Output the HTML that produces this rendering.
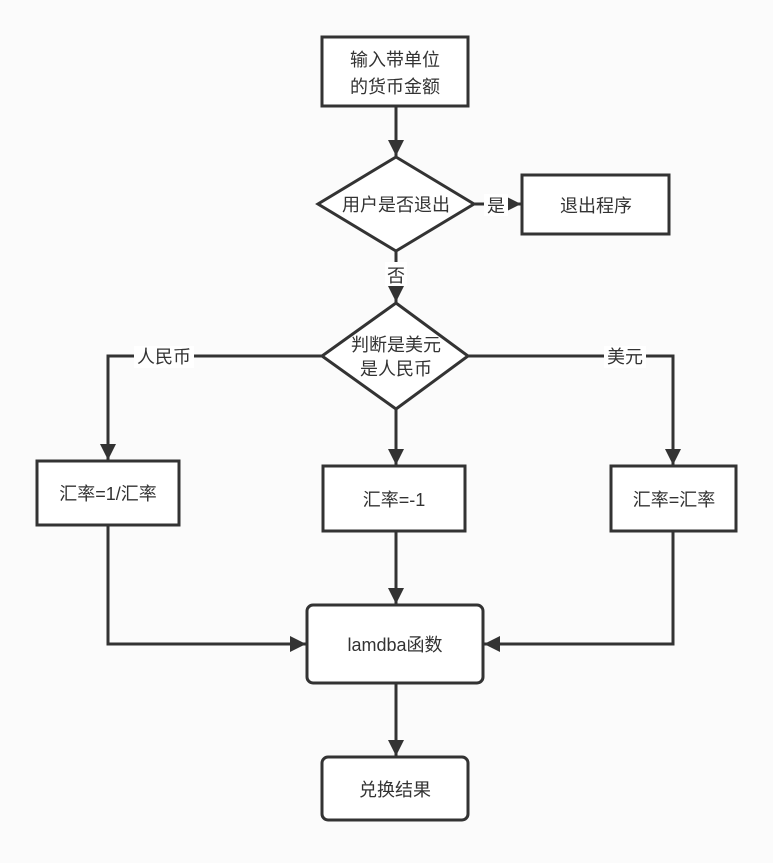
<!DOCTYPE html>
<html><head><meta charset="utf-8"><style>
html,body{margin:0;padding:0;background:#fbfbfb;}
svg text{font-family:"Liberation Sans","Noto Sans CJK SC",sans-serif;font-size:18px;fill:#333;}
</style></head><body>
<svg width="773" height="858" viewBox="0 0 773 858" xmlns="http://www.w3.org/2000/svg">
<defs>
<marker id="b" markerWidth="18" markerHeight="18" refX="16" refY="8" orient="auto" markerUnits="userSpaceOnUse"><path d="M0,0 L16,8 L0,16 Z" fill="#333"/></marker></defs>
<g stroke="#333" stroke-width="3" fill="none">
<line x1="396" y1="106" x2="396" y2="156" marker-end="url(#b)"/>
<line x1="474" y1="204" x2="521" y2="204" marker-end="url(#b)"/>
<line x1="396" y1="251" x2="396" y2="302" marker-end="url(#b)"/>
<polyline points="322,356 108,356 108,460" marker-end="url(#b)"/>
<line x1="396" y1="409" x2="396" y2="465" marker-end="url(#b)"/>
<polyline points="468,356 673,356 673,465" marker-end="url(#b)"/>
<polyline points="108,525 108,644 306,644" marker-end="url(#b)"/>
<line x1="396" y1="531" x2="396" y2="604" marker-end="url(#b)"/>
<polyline points="673,531 673,644 484,644" marker-end="url(#b)"/>
<line x1="396" y1="683" x2="396" y2="756" marker-end="url(#b)"/>
</g>
<g stroke="#333" stroke-width="3" fill="#fff">
<rect x="322" y="37" width="146" height="69"/>
<polygon points="396,157 474,204 396,251 318,204"/>
<rect x="522" y="175" width="147" height="59"/>
<polygon points="396,303 468,356 396,409 322,356"/>
<rect x="37" y="461" width="142" height="64"/>
<rect x="323" y="466" width="142" height="65"/>
<rect x="611" y="466" width="125" height="65"/>
<rect x="307" y="605" width="176" height="78" rx="6"/>
<rect x="322" y="757" width="146" height="63" rx="6"/>
</g>
<g fill="#fff">
<rect x="484" y="194" width="24" height="22"/>
<rect x="385" y="262" width="22" height="24"/>
<rect x="134" y="346" width="60" height="22"/>
<rect x="604" y="346" width="42" height="22"/>
</g>
<g text-anchor="middle">
<text x="395" y="66">输入带单位</text>
<text x="395" y="93">的货币金额</text>
<text x="396" y="211">用户是否退出</text>
<text x="596" y="212">退出程序</text>
<text x="496" y="212">是</text>
<text x="396" y="282">否</text>
<text x="396" y="351">判断是美元</text>
<text x="396" y="375">是人民币</text>
<text x="164" y="363">人民币</text>
<text x="625" y="363">美元</text>
<text x="108" y="500">汇率=1/汇率</text>
<text x="394" y="506">汇率=-1</text>
<text x="674" y="506">汇率=汇率</text>
<text x="395" y="651">lamdba函数</text>
<text x="395" y="796">兑换结果</text>
</g>
</svg>
</body></html>
